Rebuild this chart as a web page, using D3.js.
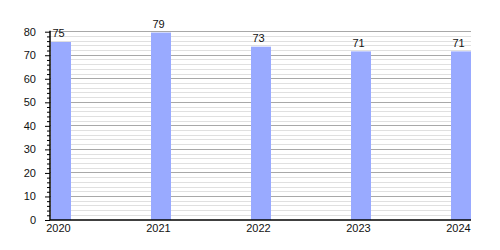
<!DOCTYPE html>
<html><head><meta charset="utf-8">
<script src="https://cdn.jsdelivr.net/npm/d3@7"></script>
<style>body{margin:0;background:#fff}svg{display:block}</style>
</head><body>
<svg id="c" width="500" height="250"></svg>
<script>
(function(){
const years = ["2020","2021","2022","2023","2024"];
const values = [75, 79, 73, 71, 71];
const yTicks = [0,10,20,30,40,50,60,70,80];

const svg = d3.select("#c");
const mLeft = 50, mRight = 471, mTop = 31.7, mBottom = 220;
const barW = 21;
const x = d3.scalePoint().domain(years).range([mLeft, mRight - barW]);
const y = d3.scaleLinear().domain([0, 80]).range([mBottom, mTop]);
const minor = d3.range(0, 81, 2);

// grid
svg.append("g").selectAll("line").data(minor.filter(d => d % 10 !== 0)).join("line")
  .attr("x1", mLeft).attr("x2", mRight).attr("y1", d => y(d)).attr("y2", d => y(d))
  .attr("stroke", "#e0e0e0").attr("stroke-width", 1).attr("shape-rendering","crispEdges");
svg.append("g").selectAll("line").data(yTicks.filter(d => d > 0)).join("line")
  .attr("x1", mLeft).attr("x2", mRight).attr("y1", d => y(d)).attr("y2", d => y(d))
  .attr("stroke", "#a8a8a8").attr("stroke-width", 1).attr("shape-rendering","crispEdges");

// bars
svg.append("g").selectAll("rect").data(values).join("rect")
  .attr("x", (d,i) => x(years[i]) + 1).attr("width", barW - 1)
  .attr("y", d => y(d) - 1.5).attr("height", d => mBottom - y(d) + 1.5)
  .attr("fill", "#99aaff");

// value labels
svg.append("g").selectAll("text").data(values).join("text")
  .attr("x", (d,i) => x(years[i]) + 8.5).attr("y", d => y(d) - 6)
  .attr("text-anchor", "middle").attr("font-family", "Liberation Sans, Arial, sans-serif")
  .attr("font-size", 11).attr("fill", "#111").text(d => d);

// y axis
const yAxis = d3.axisLeft(y).tickValues(minor).tickSize(3).tickFormat("");
const ga = svg.append("g").attr("transform", `translate(${mLeft},0)`).call(yAxis);
ga.selectAll(".tick line").attr("x2", d => d % 10 === 0 ? -5 : -3).attr("stroke","#000");
ga.select(".domain").remove();
svg.append("g").selectAll("text").data(yTicks).join("text")
  .attr("x", 36).attr("y", d => y(d) + 4).attr("text-anchor", "end")
  .attr("font-family", "Liberation Sans, Arial, sans-serif").attr("font-size", 11).attr("fill","#111")
  .text(d => d);
svg.append("line").attr("x1", mLeft).attr("x2", mLeft).attr("y1", mTop - 1).attr("y2", mBottom)
  .attr("stroke", "#000").attr("stroke-width", 1.5);

// x axis
svg.append("line").attr("x1", mLeft).attr("x2", mRight).attr("y1", mBottom).attr("y2", mBottom)
  .attr("stroke", "#000").attr("stroke-width", 1.5);
svg.append("g").selectAll("text").data(years).join("text")
  .attr("x", d => x(d) + 8.5).attr("y", 232).attr("text-anchor", "middle")
  .attr("font-family", "Liberation Sans, Arial, sans-serif").attr("font-size", 11).attr("fill","#111")
  .text(d => d);
})();
</script>
</body></html>
